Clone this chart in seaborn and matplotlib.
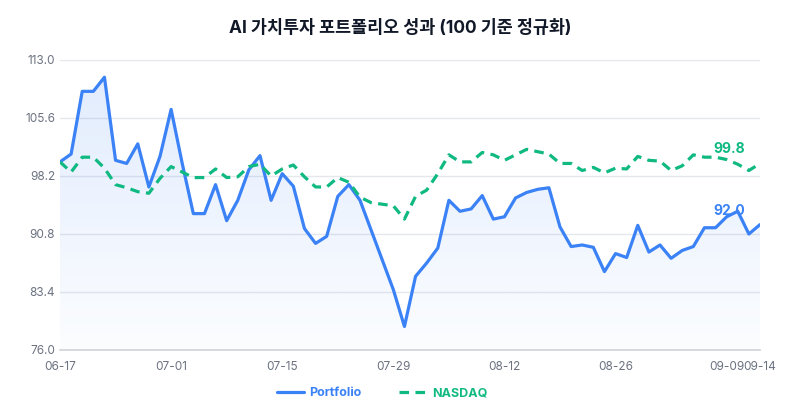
import numpy as np
import pandas as pd
import matplotlib
matplotlib.use("Agg")
import matplotlib.pyplot as plt
import seaborn as sns
from matplotlib.patches import Polygon

portfolio = [100.0,101.0,109.0,109.0,110.8,100.2,99.8,102.3,96.8,100.7,106.7,99.8,93.4,93.4,97.1,92.5,
             95.1,99.0,100.8,95.1,98.5,96.9,91.5,89.6,90.5,95.6,97.1,95.1,91.3,87.5,83.7,79.0,
             85.4,87.1,89.0,95.1,93.7,94.0,95.7,92.7,93.0,95.4,96.1,96.5,96.7,91.7,89.2,89.4,
             89.1,86.0,88.3,87.8,91.9,88.5,89.4,87.7,88.7,89.2,91.6,91.6,93.0,93.7,90.8,92.0]
nasdaq = [100.0,98.7,100.6,100.6,99.2,97.1,96.7,96.2,96.0,97.9,99.4,98.7,98.0,98.0,99.1,98.0,
          98.1,99.4,99.7,98.2,99.1,99.6,98.1,96.8,96.8,98.0,97.4,95.5,94.8,94.6,94.4,92.7,
          95.6,96.4,98.5,100.9,100.0,100.0,101.2,100.9,100.2,100.9,101.6,101.3,101.0,99.8,99.8,98.9,
          99.3,98.6,99.2,99.1,100.7,100.2,100.1,98.9,99.5,100.9,100.6,100.6,100.3,99.7,98.9,99.8]
tick_pos = [0, 10, 20, 30, 40, 50, 60, 63]
tick_labels = ["06-17", "07-01", "07-15", "07-29", "08-12", "08-26", "09-09", "09-14"]
y_ticks = [76.0, 83.4, 90.8, 98.2, 105.6, 113.0]

sns.set_theme(style="white")
plt.rcParams['font.family'] = ['Inter', 'Noto Sans CJK KR', 'DejaVu Sans']

x = np.arange(len(portfolio))
df = pd.DataFrame({"x": np.concatenate([x, x]),
                   "v": portfolio + nasdaq,
                   "s": ["Portfolio"] * len(x) + ["NASDAQ"] * len(x)})

fig = plt.figure(figsize=(8, 4), dpi=100)
ax = fig.add_axes([0.075, 0.125, 0.875, 0.725])

blue = "#3b82f6"
green = "#10b981"

verts = [(0, 76.0)] + list(zip(x, portfolio)) + [(x[-1], 76.0)]
poly = Polygon(verts, closed=True, facecolor="none", edgecolor="none")
ax.add_patch(poly)
grad = np.linspace(0.15, 0.02, 256).reshape(-1, 1)
rgba = np.zeros((256, 1, 4))
rgba[..., 0] = 0x3b / 255; rgba[..., 1] = 0x82 / 255; rgba[..., 2] = 0xf6 / 255
rgba[..., 3] = grad
im = ax.imshow(rgba, extent=[0, x[-1], 76.0, max(portfolio)], origin="upper",
               aspect="auto", zorder=1)
im.set_clip_path(poly)

sns.lineplot(data=df, x="x", y="v", hue="s", style="s",
             palette={"Portfolio": blue, "NASDAQ": green},
             dashes={"Portfolio": "", "NASDAQ": (3, 2)},
             linewidth=2.3, ax=ax, zorder=3)

ax.text(x[-1] - 2.8, portfolio[-1] + 0.9, f"{portfolio[-1]:.1f}", color=blue,
        fontsize=10, fontweight="bold", ha="center", va="bottom")
ax.text(x[-1] - 2.8, nasdaq[-1] + 0.9, f"{nasdaq[-1]:.1f}", color=green,
        fontsize=10, fontweight="bold", ha="center", va="bottom")

ax.set_xlim(0, x[-1])
ax.set_ylim(76.0, 113.0)
ax.set_yticks(y_ticks)
ax.set_yticklabels([f"{v:.1f}" for v in y_ticks])
ax.set_xticks(tick_pos)
ax.set_xticklabels(tick_labels)
ax.tick_params(axis="both", labelsize=8.5, colors="#6b7280", length=0)
ax.tick_params(axis="x", pad=8)
ax.yaxis.grid(True, color="#e5e7eb", linewidth=1)
ax.set_axisbelow(True)
for s in ["top", "right", "left"]:
    ax.spines[s].set_visible(False)
ax.spines["bottom"].set_color("#d1d5db")
ax.set_xlabel("")
ax.set_ylabel("")

leg = ax.legend(loc="upper center", bbox_to_anchor=(0.46, -0.09), ncol=2, frameon=False,
                fontsize=9, handlelength=2.2, handletextpad=0.4, columnspacing=3)
for t, c in zip(leg.get_texts(), [blue, green]):
    t.set_color(c)
    t.set_fontweight("bold")

fig.suptitle("AI 가치투자 포트폴리오 성과 (100 기준 정규화)", y=0.95,
             fontsize=12.5, fontweight="bold", color="#111827")

fig.savefig("out.png", dpi=100, facecolor="white")
